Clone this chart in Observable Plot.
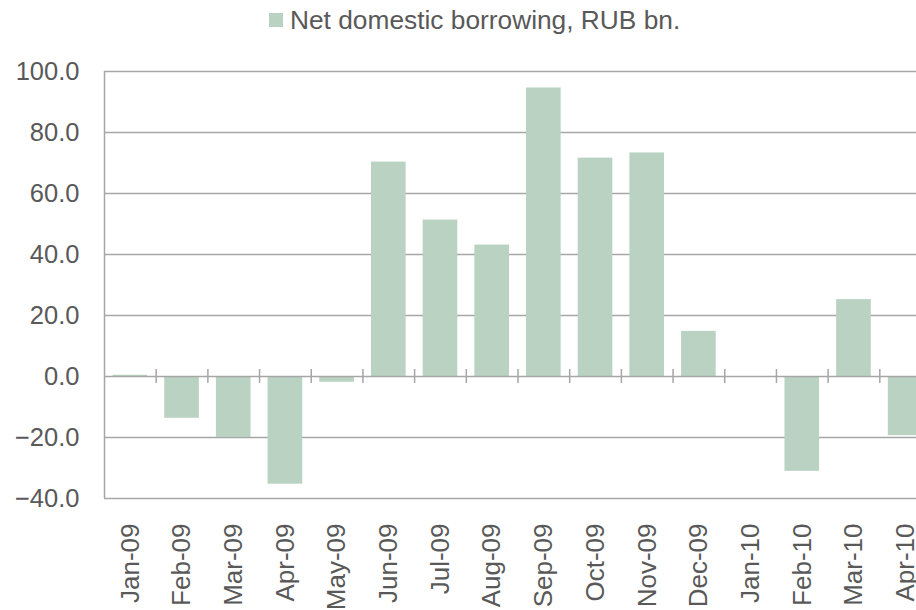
<!DOCTYPE html>
<html>
<head>
<meta charset="utf-8">
<script src="https://cdn.jsdelivr.net/npm/d3@7"></script>
<script src="https://cdn.jsdelivr.net/npm/@observablehq/plot@0.6"></script>
<style>
  html, body { margin: 0; padding: 0; background: #fff; overflow: hidden; }
  body { width: 916px; height: 610px; font-family: "Liberation Sans", Arial, sans-serif; }
  #legend { position: relative; height: 40px; width: 916px; }
  #legend .sw { position: absolute; left: 269px; top: 13px; width: 14px; height: 14px; background: #b9d2c2; }
  #legend .lb { position: absolute; left: 290px; top: 5px; line-height: 30px; font-size: 26.3px; color: #595959; white-space: nowrap; }
  #chart svg { display: block; }
</style>
</head>
<body>
<div id="legend"><span class="sw"></span><span class="lb">Net domestic borrowing, RUB bn.</span></div>
<div id="chart"></div>
<script>
const months = ["Jan-09","Feb-09","Mar-09","Apr-09","May-09","Jun-09","Jul-09","Aug-09","Sep-09","Oct-09","Nov-09","Dec-09","Jan-10","Feb-10","Mar-10","Apr-10"];
const borrowing = [0.4, -13.7, -20.0, -35.3, -1.9, 70.3, 51.3, 43.1, 94.6, 71.6, 73.3, 14.8, 0, -31.1, 25.2, -19.4];
const yTicks = [-40, -20, 0, 20, 40, 60, 80, 100];

const data = months.map((m, i) => ({month: m, value: borrowing[i]}));

const xLeft = 104, xRight = 931;
const step = (xRight - xLeft) / months.length;
const gridColor = "#a6a6a6";
const textColor = "#595959";

const chart = Plot.plot({
  width: 916,
  height: 570,
  marginTop: 31,
  marginBottom: 112,
  marginLeft: 104,
  marginRight: 0,
  style: {fontFamily: "'Liberation Sans', Arial, sans-serif", background: "#fff", overflow: "hidden"},
  x: {domain: months, range: [xLeft, xRight], paddingInner: 0.33, paddingOuter: 0.165, round: false},
  y: {domain: [yTicks[0], yTicks[yTicks.length - 1]]},
  marks: [
    Plot.ruleY(yTicks.filter(d => d !== 0), {stroke: gridColor, strokeWidth: 1.5}),
    Plot.barY(data, {x: "month", y: "value", fill: "#b9d2c2"}),
    Plot.ruleY([0], {stroke: gridColor, strokeWidth: 1.5}),
    Plot.ruleX(months.slice(1), {x: d => d, dx: -step / 2, y1: 0, y2: 0, insetTop: -7, insetBottom: -7, stroke: gridColor, strokeWidth: 1.5}),
    Plot.ruleX([months[0]], {x: d => d, dx: -step / 2, y1: yTicks[0], y2: yTicks[yTicks.length - 1], stroke: gridColor, strokeWidth: 1.5}),
    Plot.axisY({ticks: yTicks, tickFormat: d3.format(".1f"), tickSize: 0, tickPadding: 25, fontSize: 25.5, color: textColor, label: null}),
    Plot.axisX({tickRotate: -90, tickSize: 0, tickPadding: 25, fontSize: 26, color: textColor, label: null})
  ]
});
document.getElementById("chart").appendChild(chart);
</script>
</body>
</html>
